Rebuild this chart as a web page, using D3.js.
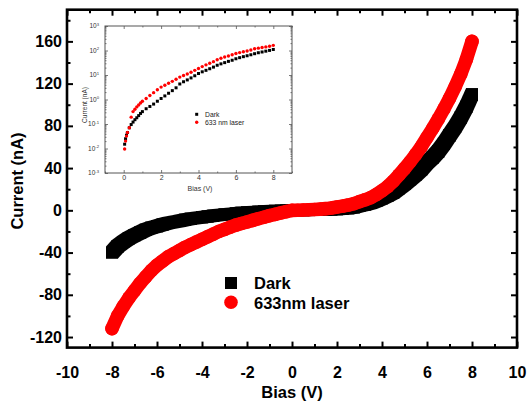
<!DOCTYPE html>
<html><head><meta charset="utf-8">
<script src="https://cdn.jsdelivr.net/npm/d3@7"></script>
<style>body{margin:0;background:#fff} text{font-family:"Liberation Sans",Arial,sans-serif}</style>
</head><body><svg id="c" width="527" height="403"></svg>
<script>
// ---- main chart data ----
const bias = [-8,-7.75,-7.5,-7.25,-7,-6.75,-6.5,-6.25,-6,-5.75,-5.5,-5.25,-5,-4.75,-4.5,-4.25,-4,-3.75,-3.5,-3.25,-3,-2.75,-2.5,-2.25,-2,-1.75,-1.5,-1.25,-1,-0.75,-0.5,-0.25,0,0.25,0.5,0.75,1,1.25,1.5,1.75,2,2.25,2.5,2.75,3,3.25,3.5,3.75,4,4.25,4.5,4.75,5,5.25,5.5,5.75,6,6.25,6.5,6.75,7,7.25,7.5,7.75,8];
const darkCurrent = [-40,-34,-30,-26.5,-23.5,-21,-18.5,-16.5,-15,-13.5,-12,-11,-10,-9,-8,-7.2,-6.5,-5.8,-5.1,-4.5,-3.9,-3.4,-2.9,-2.4,-2.0,-1.6,-1.3,-1.0,-0.7,-0.5,-0.3,-0.15,0,0.05,0.12,0.25,0.32,0.45,0.6,0.8,1.1,1.5,2.0,2.8,4.3,5.5,7,9,11.5,14,17,21,25,29.5,34,39,45,50,56,63,71,79,88,98,110];
const laserCurrent = [-112,-100,-91,-83,-76,-69,-63,-57,-52,-48,-44,-41,-38,-35,-32.5,-30,-27.5,-25,-22.5,-20,-18,-16,-14,-12.5,-11,-9.5,-8,-6.5,-5,-3.8,-2.5,-1.2,0,0.06,0.32,0.55,0.85,1.15,1.6,2.2,3.2,4,5,6.3,8.2,10,12,15,18.5,22.5,27.5,33.5,39.5,46,53,60.5,69,77.5,86.5,96,106,117,129,143,160];
const xMajor = [-10,-8,-6,-4,-2,0,2,4,6,8,10];
const xMinor = [-9,-7,-5,-3,-1,1,3,5,7,9];
const yMajor = [-120,-80,-40,0,40,80,120,160];
const yMinor = [-100,-60,-20,20,60,100,140,180];
const legendLabels = ["Dark","633nm laser"];

// ---- inset data (positive bias, |I| on log scale) ----
const insetBias = [0.05,0.1,0.15,0.2,0.3,0.4,0.5,0.6,0.7,0.8,0.9,1.0,1.2,1.4,1.6,1.8,2.0,2.2,2.4,2.6,2.8,3.0,3.2,3.4,3.6,3.8,4.0,4.2,4.4,4.6,4.8,5.0,5.2,5.4,5.6,5.8,6.0,6.2,6.4,6.6,6.8,7.0,7.2,7.4,7.6,7.8,8.0];
const insetDark = [0.015,0.025,0.035,0.045,0.07,0.095,0.12,0.15,0.18,0.22,0.27,0.32,0.42,0.52,0.65,0.85,1.1,1.4,1.8,2.3,3.0,4.3,5.3,6.3,7.6,9.3,11.5,13.5,15.5,18,21,25,28.5,32,36,40,46,51,56,61,67,74,81,87,94,101,110];
const insetLaser = [0.0095,0.02,0.032,0.045,0.07,0.19,0.32,0.4,0.5,0.6,0.72,0.85,1.1,1.45,1.9,2.5,3.2,3.8,4.6,5.5,6.7,8.2,9.5,11,13,15.5,18.5,22,26,30,35,42,48,54,60,67,75,82,89,96,105,118,125,132,140,150,162];
const insetXMajor = [0,2,4,6,8];
const insetXMinor = [-1,1,3,5,7,9];
const insetYExp = [-3,-2,-1,0,1,2,3];
const insetLegend = ["Dark","633 nm laser"];

const svg = d3.select("#c");
svg.append("rect").attr("width",527).attr("height",403).attr("fill","#fff");

const x = d3.scaleLinear([-10,10],[67,517]);
const y = d3.scaleLinear([-130,190],[347.6,9.7]);

// data: dense marker bands
const g = svg.append("g");
const darkPts = bias.map((v,i)=>[v,darkCurrent[i]]);
const lasPts = bias.map((v,i)=>[v,laserCurrent[i]]);
const HS = 6; // half square size (px)
// band swept by the square marker between consecutive readings
const sq = (p)=>{const cx=x(p[0]),cy=y(p[1]);return [[cx-HS,cy-HS],[cx+HS,cy-HS],[cx+HS,cy+HS],[cx-HS,cy+HS]];};
const segs = d3.pairs(darkPts).map(([a,b])=>d3.polygonHull(sq(a).concat(sq(b))));
g.selectAll("path.dseg").data(segs).enter().append("path")
  .attr("d",h=>"M"+h.join("L")+"Z").attr("fill","#000");
g.selectAll("rect.dark").data(darkPts).enter().append("rect")
  .attr("x",d=>x(d[0])-HS).attr("y",d=>y(d[1])-HS)
  .attr("width",2*HS).attr("height",2*HS).attr("fill","#000");
const line = d3.line().x(d=>x(d[0])).y(d=>y(d[1]));
g.append("path").attr("d",line(lasPts)).attr("fill","none").attr("stroke","#ff0000")
  .attr("stroke-width",13.6).attr("stroke-linecap","round").attr("stroke-linejoin","round");
g.selectAll("circle.las").data(lasPts).enter().append("circle")
  .attr("cx",d=>x(d[0])).attr("cy",d=>y(d[1])).attr("r",6.8).attr("fill","#ff0000");

// axes
function styleAxis(sel){ sel.select(".domain").remove(); sel.selectAll("line").attr("stroke","#000").attr("stroke-width",2);
  sel.selectAll("text").attr("font-size",16).attr("font-weight","bold").attr("fill","#000").attr("font-family","Liberation Sans, Arial, sans-serif"); }
const fmt = d=>String(d);
svg.append("g").attr("transform","translate(0,347.6)")
  .call(d3.axisBottom(x).tickValues(xMajor).tickSize(-6).tickPadding(19).tickFormat(fmt)).call(styleAxis);
svg.append("g").attr("transform","translate(0,347.6)")
  .call(d3.axisBottom(x).tickValues(xMinor).tickSize(-3.5).tickFormat("")).call(styleAxis);
svg.append("g").attr("transform","translate(0,9.7)")
  .call(d3.axisTop(x).tickValues(xMajor).tickSize(-6).tickFormat("")).call(styleAxis);
svg.append("g").attr("transform","translate(0,9.7)")
  .call(d3.axisTop(x).tickValues(xMinor).tickSize(-3.5).tickFormat("")).call(styleAxis);
svg.append("g").attr("transform","translate(67,0)")
  .call(d3.axisLeft(y).tickValues(yMajor).tickSize(-6).tickPadding(5).tickFormat(fmt)).call(styleAxis);
svg.append("g").attr("transform","translate(67,0)")
  .call(d3.axisLeft(y).tickValues(yMinor).tickSize(-3.5).tickFormat("")).call(styleAxis);
svg.append("g").attr("transform","translate(517,0)")
  .call(d3.axisRight(y).tickValues(yMajor).tickSize(-6).tickFormat("")).call(styleAxis);
svg.append("g").attr("transform","translate(517,0)")
  .call(d3.axisRight(y).tickValues(yMinor).tickSize(-3.5).tickFormat("")).call(styleAxis);

svg.append("rect").attr("x",67).attr("y",9.7).attr("width",450).attr("height",337.9)
  .attr("fill","none").attr("stroke","#000").attr("stroke-width",2.6);

svg.append("text").attr("x",292).attr("y",398).attr("text-anchor","middle")
  .attr("font-size",16.5).attr("font-weight","bold").text("Bias (V)");
svg.append("text").attr("transform","translate(23,181) rotate(-90)").attr("text-anchor","middle")
  .attr("font-size",16.5).attr("font-weight","bold").text("Current (nA)");

// legend
const lg = svg.append("g");
lg.append("rect").attr("x",225).attr("y",277).attr("width",12).attr("height",12).attr("fill","#000");
lg.append("circle").attr("cx",231).attr("cy",302.3).attr("r",6.8).attr("fill","#ff0000");
lg.selectAll("text").data(legendLabels).enter().append("text")
  .attr("x",254).attr("y",(d,i)=>288.5+i*20).attr("font-size",16.5).attr("font-weight","bold").text(d=>d);

// ---- inset ----
const ix = d3.scaleLinear([-1,9],[105,292]);
const iy = d3.scaleLog([1e-3,1e3],[173,26]);
const ins = svg.append("g");
ins.append("rect").attr("x",105).attr("y",26).attr("width",187).attr("height",147).attr("fill","#fff");
const tc = "#555";
function styleInset(sel){ sel.select(".domain").remove(); sel.selectAll("line").attr("stroke",tc).attr("stroke-width",0.8);
  sel.selectAll("text").attr("font-size",7).attr("fill","#333").attr("font-family","Liberation Sans, Arial, sans-serif"); }
ins.append("g").attr("transform","translate(0,173)")
  .call(d3.axisBottom(ix).tickValues(insetXMajor).tickSize(-3).tickPadding(2).tickFormat(fmt)).call(styleInset);
ins.append("g").attr("transform","translate(0,173)")
  .call(d3.axisBottom(ix).tickValues(insetXMinor).tickSize(-1.5).tickFormat("")).call(styleInset);
ins.append("g").attr("transform","translate(0,26)")
  .call(d3.axisTop(ix).tickValues(insetXMajor).tickSize(-3).tickFormat("")).call(styleInset);
ins.append("g").attr("transform","translate(0,26)")
  .call(d3.axisTop(ix).tickValues(insetXMinor).tickSize(-1.5).tickFormat("")).call(styleInset);
const decades = insetYExp.map(e=>Math.pow(10,e));
const logMinor = [];
insetYExp.slice(0,-1).forEach(e=>{ for(let k=2;k<10;k++) logMinor.push(k*Math.pow(10,e)); });
ins.append("g").attr("transform","translate(105,0)")
  .call(d3.axisLeft(iy).tickValues(decades).tickSize(-3).tickFormat("")).call(styleInset);
ins.append("g").attr("transform","translate(105,0)")
  .call(d3.axisLeft(iy).tickValues(logMinor).tickSize(-1.5).tickFormat("")).call(styleInset);
ins.append("g").attr("transform","translate(292,0)")
  .call(d3.axisRight(iy).tickValues(decades).tickSize(-3).tickFormat("")).call(styleInset);
ins.append("g").attr("transform","translate(292,0)")
  .call(d3.axisRight(iy).tickValues(logMinor).tickSize(-1.5).tickFormat("")).call(styleInset);
ins.append("rect").attr("x",105).attr("y",26).attr("width",187).attr("height",147)
  .attr("fill","none").attr("stroke",tc).attr("stroke-width",1);
// y tick labels 10^n
const yl = ins.selectAll("text.yl").data(insetYExp).enter().append("text")
  .attr("x",99).attr("y",e=>iy(Math.pow(10,e))+2.3).attr("text-anchor","end")
  .attr("font-size",6.5).attr("fill","#333");
yl.append("tspan").text("10");
yl.append("tspan").attr("dy",-2.5).attr("font-size",4.2).text(e=>String(e));
ins.append("text").attr("x",200).attr("y",191).attr("text-anchor","middle").attr("font-size",7).attr("fill","#333").text("Bias (V)");
ins.append("text").attr("transform","translate(87,105) rotate(-90)").attr("text-anchor","middle")
  .attr("font-size",6.5).attr("fill","#333").text("Current (nA)");
// inset markers
ins.selectAll("rect.d").data(insetBias).enter().append("rect")
  .attr("x",d=>ix(d)-1.5).attr("y",(d,i)=>iy(insetDark[i])-1.5).attr("width",3).attr("height",3).attr("fill","#000");
ins.selectAll("circle.l").data(insetBias).enter().append("circle")
  .attr("cx",d=>ix(d)).attr("cy",(d,i)=>iy(insetLaser[i])).attr("r",1.7).attr("fill","#ff0000");
// inset legend
ins.append("rect").attr("x",195.2).attr("y",112.8).attr("width",3).attr("height",3).attr("fill","#000");
ins.append("circle").attr("cx",196.7).attr("cy",122.3).attr("r",1.7).attr("fill","#ff0000");
ins.selectAll("text.lg").data(insetLegend).enter().append("text")
  .attr("x",205).attr("y",(d,i)=>116.8+i*8).attr("font-size",6.8).attr("fill","#222").text(d=>d);
</script></body></html>
